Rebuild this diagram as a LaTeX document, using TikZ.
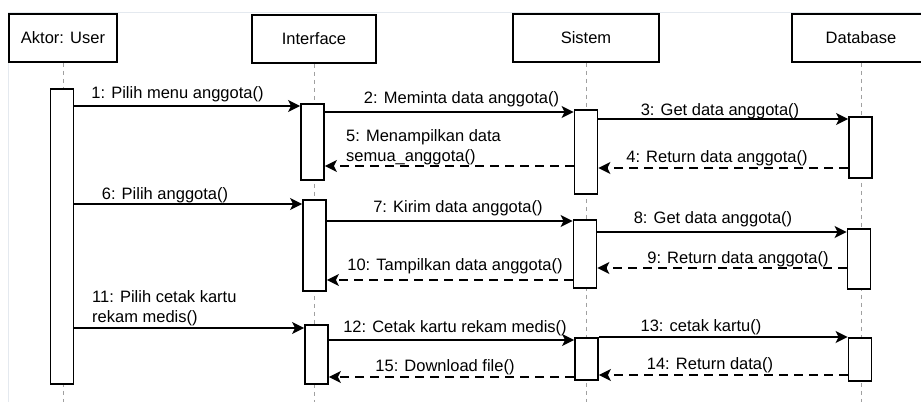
\documentclass[tikz,border=0pt]{standalone}
\usepackage{fontspec}
\setmainfont{Liberation Sans}
\usetikzlibrary{arrows.meta}
\definecolor{framec}{HTML}{E4E9EF}
\definecolor{lifec}{HTML}{A0A0A0}
\begin{document}
\begin{tikzpicture}[x=1pt,y=-1pt,
  every node/.style={font=\fontsize{16.5}{20}\selectfont, inner sep=0pt},
  head/.style={draw, line width=1.8pt, minimum height=48pt},
  actbar/.style={draw, fill=white, line width=1.8pt, minimum width=23pt, anchor=north},
  life/.style={draw=lifec, line width=0.9pt, dash pattern=on 4pt off 4pt},
  msg/.style={line width=1.8pt, -{Stealth[length=12pt,width=12pt,inset=3pt]}},
  ret/.style={msg, dash pattern=on 9pt off 6pt},
  lbl/.style={anchor=base},
  lbll/.style={anchor=north west, align=left}
]
\useasboundingbox (0,0) rectangle (921,402);
\clip (0,0) rectangle (921,402);
\fill[white] (0,0) rectangle (921,402);
\draw[framec, line width=1pt] (921,12) -- (8,12) -- (8,402);

% heads
\node[head, minimum width=108pt] (hu) at (63,38) {Aktor: User};
\node[head, minimum width=124pt] (hi) at (314,39) {Interface};
\node[head, minimum width=146pt] (hs) at (586,38) {Sistem};
\node[head, minimum width=138pt] (hd) at (861,38) {Database};

% lifelines
\coordinate (eu) at (63,402);
\coordinate (ei) at (314,402);
\coordinate (es) at (586,402);
\coordinate (ed) at (861,402);
\draw[life] (hu.south) -- (eu);
\draw[life] (hi.south) -- (ei);
\draw[life] (hs.south) -- (es);
\draw[life] (hd.south) -- (ed);

% activation bars
\node[actbar, minimum height=295pt] (u) at (62,88) {};
\node[actbar, minimum height=76pt] (i1) at (312.5,103) {};
\node[actbar, minimum height=91pt] (i2) at (314.5,199) {};
\node[actbar, minimum height=59pt] (i3) at (316.5,324) {};
\node[actbar, minimum height=84pt] (s1) at (586,109) {};
\node[actbar, minimum height=68pt] (s2) at (585,219) {};
\node[actbar, minimum height=42pt] (s3) at (586.5,337) {};
\node[actbar, minimum height=61pt] (d1) at (860.5,116) {};
\node[actbar, minimum height=60pt] (d2) at (859,228) {};
\node[actbar, minimum height=43pt] (d3) at (860,337) {};

% messages
\draw[msg] (u.east |- 0,106) -- (i1.west |- 0,106);
\draw[msg] (i1.east |- 0,112) -- (s1.west |- 0,112);
\draw[msg] (s1.east |- 0,119) -- (d1.west |- 0,119);
\draw[ret] (d1.west |- 0,168) -- (s1.east |- 0,168);
\draw[ret] (s1.west |- 0,166) -- (i1.east |- 0,166);
\draw[msg] (u.east |- 0,204) -- (i2.west |- 0,204);
\draw[msg] (i2.east |- 0,221) -- (s2.west |- 0,221);
\draw[msg] (s2.east |- 0,232) -- (d2.west |- 0,232);
\draw[ret] (d2.west |- 0,268) -- (s2.east |- 0,268);
\draw[ret] (s2.west |- 0,280) -- (i2.east |- 0,280);
\draw[msg] (u.east |- 0,328) -- (i3.west |- 0,328);
\draw[msg] (i3.east |- 0,340) -- (s3.west |- 0,340);
\draw[msg] (s3.east |- 0,337) -- (d3.west |- 0,337);
\draw[ret] (d3.west |- 0,375) -- (s3.east |- 0,375);
\draw[ret] (s3.west |- 0,377) -- (i3.east |- 0,377);

% labels
\node[lbl] (l1) at (177.5,98) {1: Pilih menu anggota()};
\node[lbl] (l2) at (461.5,103) {2: Meminta data anggota()};
\node[lbl] (l3) at (720,115) {3: Get data anggota()};
\node[lbl] (l4) at (717,162) {4: Return data anggota()};
\node[lbll] (l5) at (346,129) {5: Menampilkan data\\semua\_anggota()};
\node[lbl] (l6) at (165,199) {6: Pilih anggota()};
\node[lbl] (l7) at (458,212) {7: Kirim data anggota()};
\node[lbl] (l8) at (713,223) {8: Get data anggota()};
\node[lbl] (l9) at (738,263) {9: Return data anggota()};
\node[lbl] (l10) at (455,270) {10: Tampilkan data anggota()};
\node[lbll] (l11) at (92,290) {11: Pilih cetak kartu\\rekam medis()};
\node[lbl] (l12) at (455,332) {12: Cetak kartu rekam medis()};
\node[lbl] (l13) at (701,331) {13: cetak kartu()};
\node[lbl] (l14) at (710,369) {14: Return data()};
\node[lbl] (l15) at (445,371) {15: Download file()};
\end{tikzpicture}
\end{document}
